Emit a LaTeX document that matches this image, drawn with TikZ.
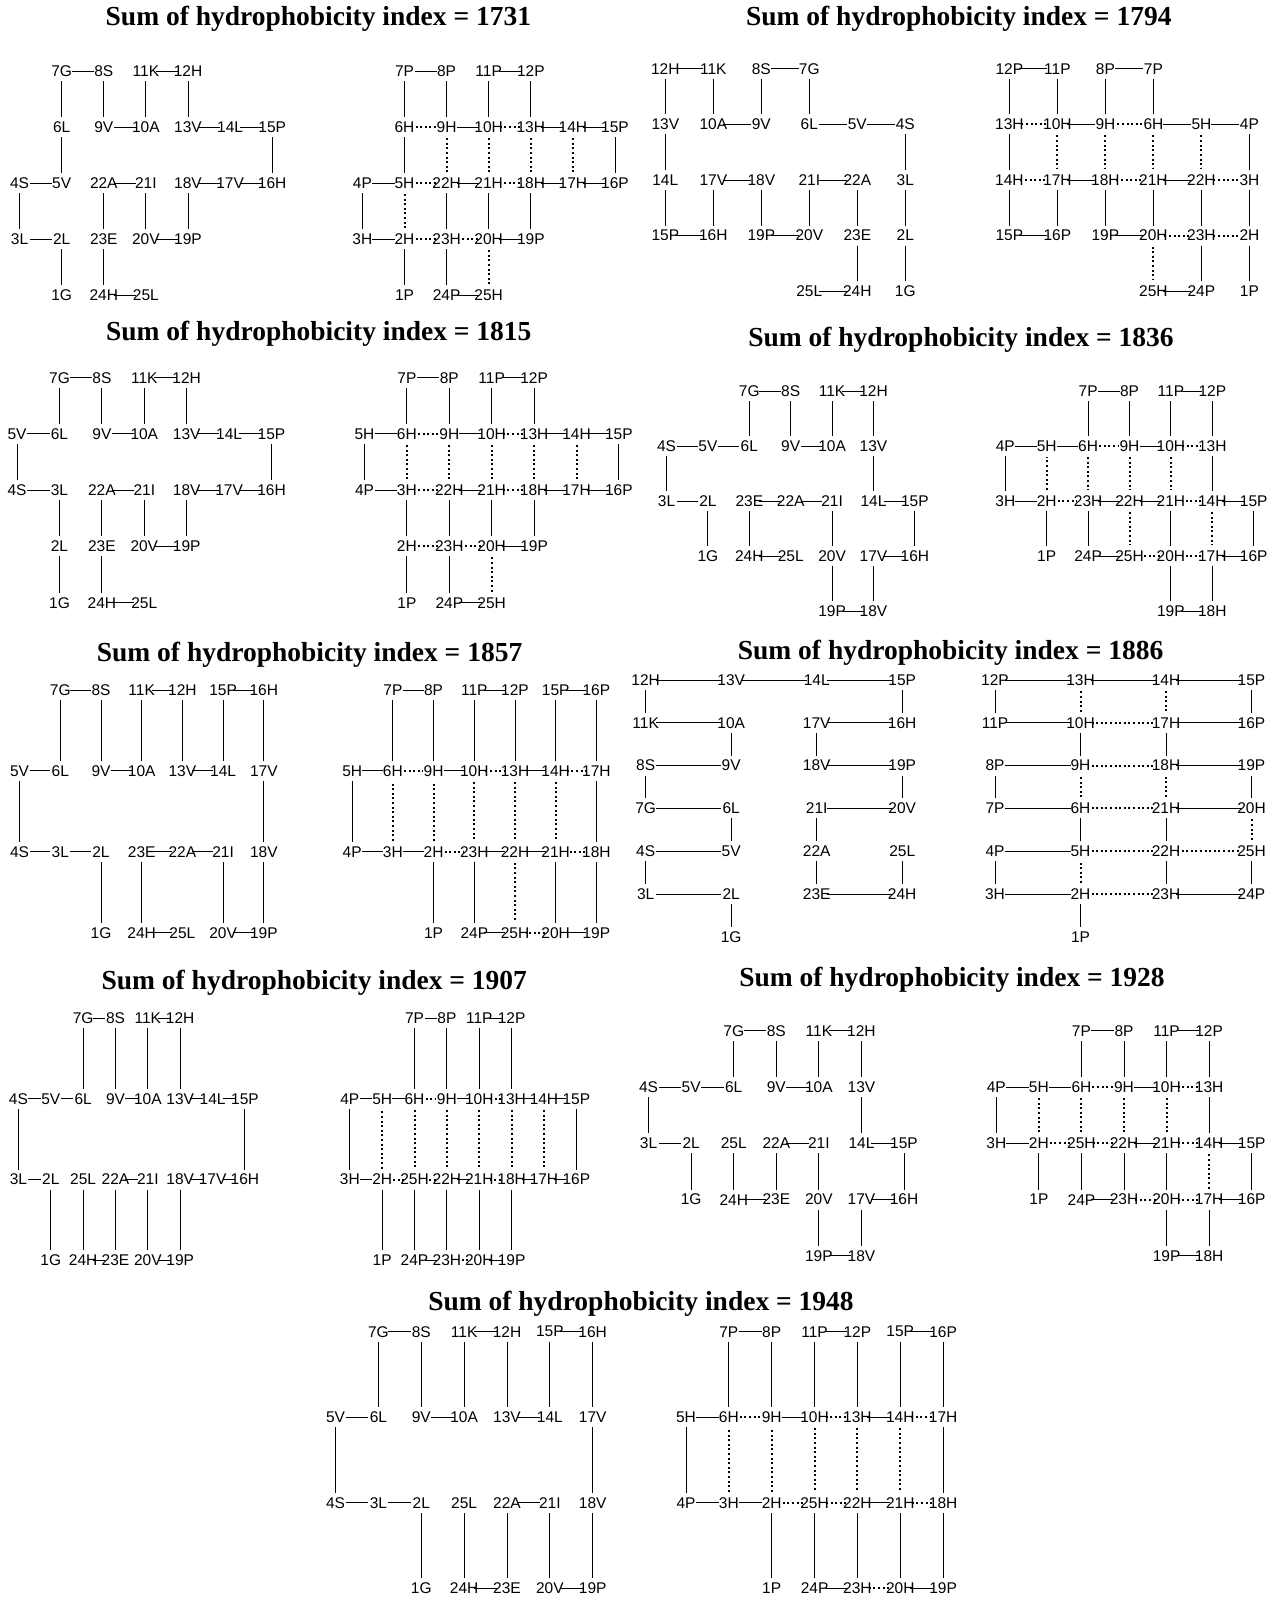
\documentclass[tikz,border=0pt]{standalone}
\usepackage{fontspec}
\newfontfamily\labfont{Liberation Sans}
\newfontfamily\headfont{Liberation Serif}

% residues of the chain, by index
\newcommand{\aminoacid}[1]{\ifcase#1\or G\or L\or L\or S\or V\or L\or G\or S\or V\or A\or K\or H\or V\or L\or P\or H\or V\or V\or P\or V\or I\or A\or E\or H\or L\fi}
\newcommand{\hpclass}[1]{\ifcase#1\or P\or H\or H\or P\or H\or H\or P\or P\or H\or H\or P\or P\or H\or H\or P\or P\or H\or H\or P\or H\or H\or H\or H\or P\or H\fi}

\tikzset{
  res/.style={font=\labfont\fontsize{15.5}{15.5}\selectfont, inner sep=0pt},
  heading/.style={font=\headfont\bfseries\fontsize{27.5}{30}\selectfont, inner sep=0pt, anchor=base},
  bond/.style={line width=1pt, shorten <=10pt, shorten >=10pt},
  contact/.style={line width=2pt, dash pattern=on 2pt off 2.6pt, shorten <=11pt, shorten >=11pt}
}

% #1 name, #2 x left grid, #3 x right grid, #4 y top row, #5 dx, #6 dy, #7 cells col/row
\newcommand{\fold}[7]{%
  \foreach \px/\py [count=\i] in {#7} {
    \node[res] (s#1-\i) at ({#2+(\px-1)*#5},{#4+(\py-1)*#6}) {\i\aminoacid{\i}};
    \node[res] (h#1-\i) at ({#3+(\px-1)*#5},{#4+(\py-1)*#6}) {\i\hpclass{\i}};
  }
  \foreach \i [count=\j from 2] in {1,...,24} {
    \draw[bond] (s#1-\i.center) -- (s#1-\j.center);
    \draw[bond] (h#1-\i.center) -- (h#1-\j.center);
  }
}
\newcommand{\contacts}[2]{\foreach \ca/\cb in {#2} \draw[contact] (h#1-\ca.center) -- (h#1-\cb.center);}

\begin{document}
\begin{tikzpicture}[x=1pt, y=-1pt]

\fill[white] (0,0) rectangle (1279,1600);
\useasboundingbox (0,0) rectangle (1279,1600);

% Sum = 1731
\node[heading] (t1731) at (318.4,26) {Sum of hydrophobicity index = 1731};
\fold{1731}{19.6}{362.4}{71.2}{42.1}{56}{2/5,2/4,1/4,1/3,2/3,2/2,2/1,3/1,3/2,4/2,4/1,5/1,5/2,6/2,7/2,7/3,6/3,5/3,5/4,4/4,4/3,3/3,3/4,3/5,4/5}
\contacts{1731}{2/23,2/5,5/22,6/9,9/22,10/13,10/21,13/18,14/17,18/21,20/23,20/25}

% Sum = 1794
\node[heading] (t1794) at (958.8,26) {Sum of hydrophobicity index = 1794};
\fold{1794}{665.3}{1009.4}{69}{48}{55.5}{6/5,6/4,6/3,6/2,5/2,4/2,4/1,3/1,3/2,2/2,2/1,1/1,1/2,1/3,1/4,2/4,2/3,3/3,3/4,4/4,4/3,5/3,5/4,5/5,4/5}
\contacts{1794}{2/23,3/22,5/22,6/9,6/21,9/18,10/13,10/17,14/17,18/21,20/23,20/25}

% Sum = 1815
\node[heading] (t1815) at (318.8,340.7) {Sum of hydrophobicity index = 1815};
\fold{1815}{17.1}{364.5}{377.7}{42.4}{56.25}{2/5,2/4,2/3,1/3,1/2,2/2,2/1,3/1,3/2,4/2,4/1,5/1,5/2,6/2,7/2,7/3,6/3,5/3,5/4,4/4,4/3,3/3,3/4,3/5,4/5}
\contacts{1815}{2/23,3/22,3/6,6/9,9/22,10/13,10/21,13/18,14/17,18/21,20/23,20/25}

% Sum = 1836
\node[heading] (t1836) at (961,346.7) {Sum of hydrophobicity index = 1836};
\fold{1836}{666.5}{1005.3}{391}{41.4}{55}{2/4,2/3,1/3,1/2,2/2,3/2,3/1,4/1,4/2,5/2,5/1,6/1,6/2,6/3,7/3,7/4,6/4,6/5,5/5,5/4,5/3,4/3,3/3,3/4,4/4}
\contacts{1836}{2/23,2/5,6/9,6/23,9/22,10/13,10/21,14/21,14/17,17/20,20/25,22/25}

% Sum = 1857
\node[heading] (t1857) at (309.6,661.7) {Sum of hydrophobicity index = 1857};
\fold{1857}{19.6}{352.2}{690}{40.7}{80.9}{3/4,3/3,2/3,1/3,1/2,2/2,2/1,3/1,3/2,4/2,4/1,5/1,5/2,6/2,6/1,7/1,7/2,7/3,7/4,6/4,6/3,5/3,4/3,4/4,5/4}
\contacts{1857}{2/23,2/9,3/6,6/9,10/13,10/23,13/22,14/17,14/21,18/21,20/25,22/25}

% Sum = 1886
\node[heading] (t1886) at (950.6,659.3) {Sum of hydrophobicity index = 1886};
\fold{1886}{645.7}{995}{680}{85.5}{42.8}{2/7,2/6,1/6,1/5,2/5,2/4,1/4,1/3,2/3,2/2,1/2,1/1,2/1,3/1,4/1,4/2,3/2,3/3,4/3,4/4,3/4,3/5,3/6,4/6,4/5}
\contacts{1886}{2/23,2/5,5/22,6/21,6/9,9/18,10/17,10/13,14/17,18/21,20/25,22/25}

% Sum = 1907
\node[heading] (t1907) at (314.3,989.3) {Sum of hydrophobicity index = 1907};
\fold{1907}{18.4}{349.8}{1018.3}{32.36}{80.6}{2/4,2/3,1/3,1/2,2/2,3/2,3/1,4/1,4/2,5/2,5/1,6/1,6/2,7/2,8/2,8/3,7/3,6/3,6/4,5/4,5/3,4/3,4/4,3/4,3/3}
\contacts{1907}{2/25,2/5,6/9,6/25,9/22,10/13,10/21,13/18,14/17,18/21,20/23,22/25}

% Sum = 1928
\node[heading] (t1928) at (952,986.7) {Sum of hydrophobicity index = 1928};
\fold{1928}{648.6}{996.3}{1030.7}{42.57}{56.3}{2/4,2/3,1/3,1/2,2/2,3/2,3/1,4/1,4/2,5/2,5/1,6/1,6/2,6/3,7/3,7/4,6/4,6/5,5/5,5/4,5/3,4/3,4/4,3/4,3/3}
\contacts{1928}{2/25,2/5,6/9,6/25,9/22,10/13,10/21,14/21,14/17,17/20,20/23,22/25}

% Sum = 1948
\node[heading] (t1948) at (641,1310.7) {Sum of hydrophobicity index = 1948};
\fold{1948}{335.6}{686}{1331.7}{42.85}{85.5}{3/4,3/3,2/3,1/3,1/2,2/2,2/1,3/1,3/2,4/2,4/1,5/1,5/2,6/2,6/1,7/1,7/2,7/3,7/4,6/4,6/3,5/3,5/4,4/4,4/3}
\contacts{1948}{2/25,2/9,3/6,6/9,10/13,10/25,13/22,14/17,14/21,18/21,20/23,22/25}

\end{tikzpicture}
\end{document}
